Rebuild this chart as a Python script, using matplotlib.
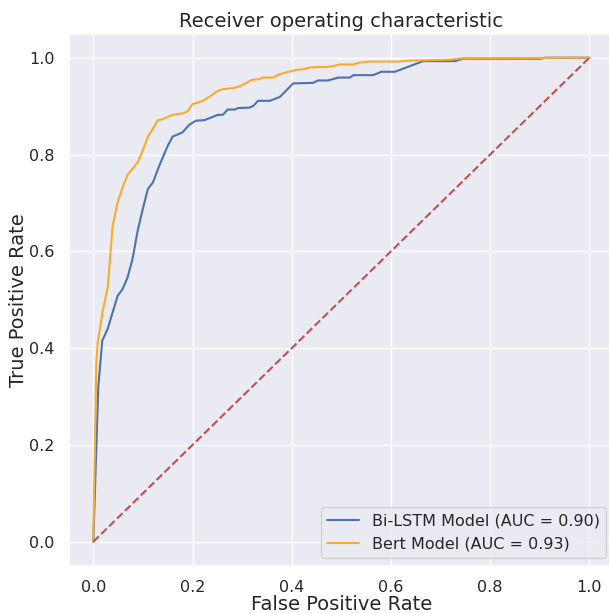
import numpy as np
import matplotlib
matplotlib.use("Agg")
import matplotlib.pyplot as plt
import seaborn as sns

sns.set_theme()

# curva Bi-LSTM
fpr_lstm = [0.0, 0.01, 0.018, 0.029, 0.049, 0.059, 0.069, 0.079, 0.0895, 0.0996,
            0.11, 0.12, 0.133, 0.15, 0.16, 0.18, 0.194, 0.207, 0.224, 0.251,
            0.261, 0.271, 0.285, 0.292, 0.315, 0.322, 0.332, 0.356, 0.376, 0.403,
            0.443, 0.453, 0.473, 0.494, 0.517, 0.524, 0.564, 0.581, 0.608, 0.665,
            0.729, 0.746, 0.901, 0.911, 1.0]
tpr_lstm = [0.0, 0.32, 0.415, 0.44, 0.508, 0.522, 0.546, 0.584, 0.643, 0.687,
            0.729, 0.742, 0.777, 0.818, 0.837, 0.846, 0.862, 0.870, 0.871, 0.882,
            0.882, 0.893, 0.893, 0.896, 0.897, 0.90, 0.911, 0.911, 0.919, 0.947,
            0.948, 0.953, 0.953, 0.959, 0.959, 0.964, 0.964, 0.971, 0.971, 0.993,
            0.993, 0.998, 0.998, 1.0, 1.0]

# curva Bert
fpr_bert = [0.0, 0.006, 0.009, 0.019, 0.029, 0.039, 0.049, 0.059, 0.069, 0.0895,
            0.0996, 0.11, 0.12, 0.13, 0.14, 0.16, 0.18, 0.19, 0.2, 0.221,
            0.238, 0.251, 0.261, 0.281, 0.295, 0.305, 0.319, 0.335, 0.342, 0.362,
            0.376, 0.393, 0.41, 0.423, 0.436, 0.47, 0.484, 0.497, 0.524, 0.537,
            0.558, 0.618, 0.632, 0.719, 0.746, 1.0]
tpr_bert = [0.0, 0.37, 0.412, 0.477, 0.525, 0.653, 0.701, 0.732, 0.758, 0.784,
            0.808, 0.837, 0.853, 0.871, 0.873, 0.882, 0.885, 0.889, 0.904, 0.911,
            0.922, 0.932, 0.935, 0.937, 0.941, 0.946, 0.954, 0.956, 0.959, 0.959,
            0.966, 0.971, 0.975, 0.976, 0.98, 0.981, 0.983, 0.986, 0.986, 0.99,
            0.992, 0.992, 0.994, 0.996, 0.999, 1.0]

auc_lstm = 0.90
auc_bert = 0.93

fig = plt.figure(figsize=(6.09, 6.13), dpi=100)
ax = fig.add_axes([0.1125, 0.0768, 0.896, 0.8685])

ax.plot(fpr_lstm, tpr_lstm, 'b', label='Bi-LSTM Model (AUC = %0.2f)' % auc_lstm)
ax.plot(fpr_bert, tpr_bert, color='#f8ab2c', label='Bert Model (AUC = %0.2f)' % auc_bert)
ax.plot([0, 1], [0, 1], 'r--')

ax.set_xlim(-0.05, 1.05)
ax.set_ylim(-0.05, 1.05)
ax.set_title('Receiver operating characteristic', fontsize=14, pad=5)
ax.set_xlabel('False Positive Rate', fontsize=14, va='baseline')
ax.set_ylabel('True Positive Rate', fontsize=14, va='center')
# colocar las etiquetas de los ejes como en la imagen
ax.xaxis.set_label_coords(0.5, -0.083)
ax.yaxis.set_label_coords(-0.092, 0.5)
ax.tick_params(labelsize=11.5, pad=4)
ax.legend(loc='lower right', fontsize=11.5)

fig.savefig('out.png', dpi=100)
